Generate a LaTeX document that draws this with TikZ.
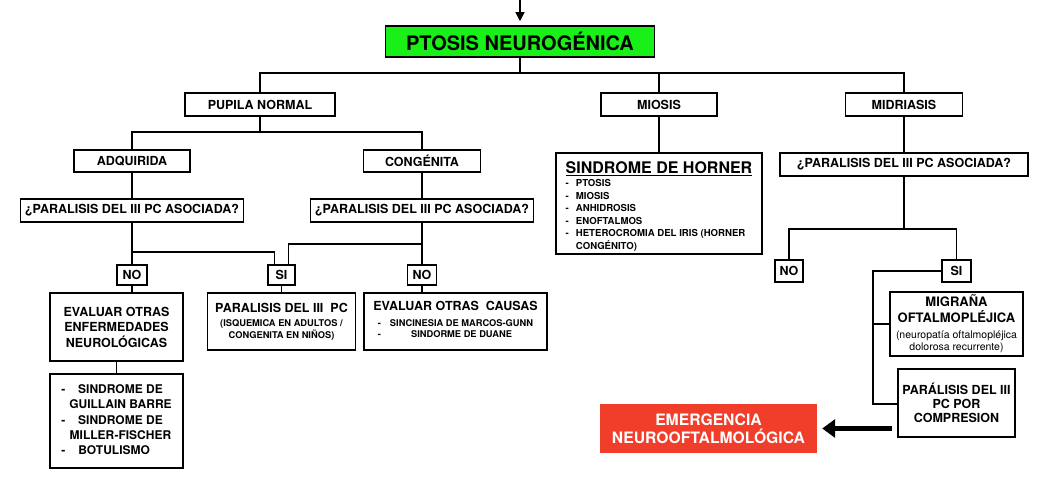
\documentclass[tikz,border=0pt]{standalone}
\usepackage{fontspec}
\setmainfont{TeX Gyre Heros}
\usetikzlibrary{arrows.meta}
\definecolor{ptgreen}{RGB}{24,240,24}
\definecolor{emred}{RGB}{240,62,42}
\newcommand{\bigt}{\fontsize{12.5}{15.5}\selectfont\bfseries}
\newcommand{\smallt}{\fontsize{9.3}{11.5}\selectfont\bfseries}
\newcommand{\lowt}{\fontsize{10.5}{12}\selectfont\mdseries}

\begin{document}
\begin{tikzpicture}[x=1pt,y=-1pt]
\tikzstyle{every node}+=[inner sep=0pt, align=center, font=\bigt]
\tikzstyle{box}=[draw=black, line width=1.6pt]
\tikzstyle{link}=[draw=black, line width=1.2pt]
\useasboundingbox (0,0) rectangle (1037,480);
\node [box, fill=ptgreen, minimum width=269pt, minimum height=31pt, font=\fontsize{20}{24}\selectfont\bfseries] (ptosis) at (520,41.5) {PTOSIS NEUROGÉNICA};
\node [box, minimum width=150pt, minimum height=23pt] (pupila) at (260,104.5) {PUPILA NORMAL};
\node [box, minimum width=116pt, minimum height=23pt] (miosis) at (659,104.5) {MIOSIS};
\node [box, minimum width=117pt, minimum height=23pt] (midriasis) at (904,104.5) {MIDRIASIS};
\node [box, minimum width=116pt, minimum height=22pt] (adquirida) at (132,161) {ADQUIRIDA};
\node [box, minimum width=117pt, minimum height=22pt] (congenita) at (422,161) {CONGÉNITA};
\node [box, minimum width=223pt, minimum height=23pt] (asocL) at (132,210.5) {¿PARALISIS DEL III PC ASOCIADA?};
\node [box, minimum width=223pt, minimum height=23pt] (asocC) at (422,210.5) {¿PARALISIS DEL III PC ASOCIADA?};
\node [box, minimum width=30pt, minimum height=20pt] (noL) at (132,275) {NO};
\node [box, minimum width=27pt, minimum height=20pt] (siC) at (281.5,275) {SI};
\node [box, minimum width=29pt, minimum height=20pt] (noC) at (422,275) {NO};
\node [box, minimum width=133pt, minimum height=68pt] (evalL) at (116.5,327) {EVALUAR OTRAS\\ENFERMEDADES\\NEUROLÓGICAS};
\node [box, minimum width=133pt, minimum height=94pt, font=\fontsize{12}{15.2}\selectfont\bfseries] (listL) at (116.5,421) {\begin{tabular}{@{}l@{\hspace{4pt}}c@{}}- & SINDROME DE\\ & GUILLAIN BARRE\\- & SINDROME DE\\ & MILLER-FISCHER\\- & \multicolumn{1}{l@{}}{\hspace{3pt}BOTULISMO}\end{tabular}};
\node [box, minimum width=148pt, minimum height=57pt] (par3) at (281.5,321.5) {PARALISIS DEL III\ \ PC\\[-1pt]{\smallt (ISQUEMICA EN ADULTOS /}\\[-4pt]{\smallt CONGENITA EN NIÑOS)}};
\node [box, minimum width=183pt, minimum height=57pt] (evalC) at (455.5,321.5) {EVALUAR OTRAS\ \ CAUSAS\\{\smallt\begin{tabular}[t]{@{}l@{\hspace{9pt}}c@{}}- & SINCINESIA DE MARCOS-GUNN\\- & SINDORME DE DUANE\end{tabular}}};
\node [box, minimum width=206pt, minimum height=101pt, align=left, font=\fontsize{9.6}{12.6}\selectfont\bfseries] (horner) at (659,203.5) {\begin{tabular}{@{}l@{\hspace{7pt}}l@{}}\multicolumn{2}{@{}l@{}}{\rule{0pt}{20pt}\fontsize{16}{19}\selectfont\underline{SINDROME DE HORNER}}\\- & PTOSIS\\- & MIOSIS\\- & ANHIDROSIS\\- & ENOFTALMOS\\- & HETEROCROMIA DEL IRIS (HORNER\\ & CONGÉNITO)\end{tabular}};
\node [box, minimum width=248pt, minimum height=23pt] (asocR) at (904,164.5) {¿PARALISIS DEL III PC ASOCIADA?};
\node [box, minimum width=28pt, minimum height=22pt] (noR) at (789,271) {NO};
\node [box, minimum width=29pt, minimum height=22pt] (siR) at (956.5,271) {SI};
\node [box, minimum width=133pt, minimum height=64pt, font=\fontsize{13}{16}\selectfont\bfseries] (migrana) at (956.5,324) {MIGRAÑA\\OFTALMOPLÉJICA\\{\lowt (neuropatía oftalmopléjica}\\[-4pt]{\lowt dolorosa recurrente)}};
\node [box, minimum width=117pt, minimum height=68pt, font=\fontsize{12.5}{14.3}\selectfont\bfseries] (compresion) at (956.5,403) {PARÁLISIS DEL III\\PC POR\\COMPRESION};
\node [fill=emred, minimum width=217pt, minimum height=49pt, text=white, font=\fontsize{15.7}{18}\selectfont\bfseries] (emergencia) at (708.5,428.5) {EMERGENCIA\\NEUROOFTALMOLÓGICA};
\coordinate (entry) at (520,0);
\coordinate (busA) at (520,73);
\coordinate (busB) at (260,132);
\coordinate (busL) at (132,252);
\coordinate (busC) at (422,244);
\coordinate (busR) at (904,229);
\coordinate (riser) at (873,404);
\draw [link, -{Triangle[length=9pt,width=9pt]}, shorten >=4pt] (entry) -- (ptosis.north);
\draw [link] (ptosis.south) -- (busA);
\draw [link] (pupila.north) |- (busA) -| (midriasis.north);
\draw [link] (miosis.north) -- (miosis.north |- busA);
\draw [link] (pupila.south) -- (busB);
\draw [link] (adquirida.north) |- (busB) -| (congenita.north);
\draw [link] (adquirida) -- (asocL);
\draw [link] (congenita) -- (asocC);
\draw [link] (asocL) -- (noL);
\draw [link] (busL) -| ([xshift=-7pt]siC.north);
\draw [link] (asocC) -- (noC);
\draw [link] (busC) -| ([xshift=7pt]siC.north);
\draw [link] (noL.south) -- (noL.south |- evalL.north);
\draw [link] (evalL) -- (listL);
\draw [link] (siC) -- (par3);
\draw [link] (noC.south) -- (noC.south |- evalC.north);
\draw [link] (miosis) -- (horner);
\draw [link] (midriasis) -- (asocR);
\draw [link] (asocR.south) -- (busR);
\draw [link] (noR.north) |- (busR) -| (siR.north);
\draw [link] (siR.west) -| (riser) -- (compresion.west |- riser);
\draw [link] (migrana.west) -- (migrana.west -| riser);
\draw [line width=5pt, -{Triangle[length=13pt,width=18pt]}, shorten <=5pt, shorten >=5pt] (compresion.west |- emergencia.east) -- (emergencia.east);
\end{tikzpicture}
\end{document}
